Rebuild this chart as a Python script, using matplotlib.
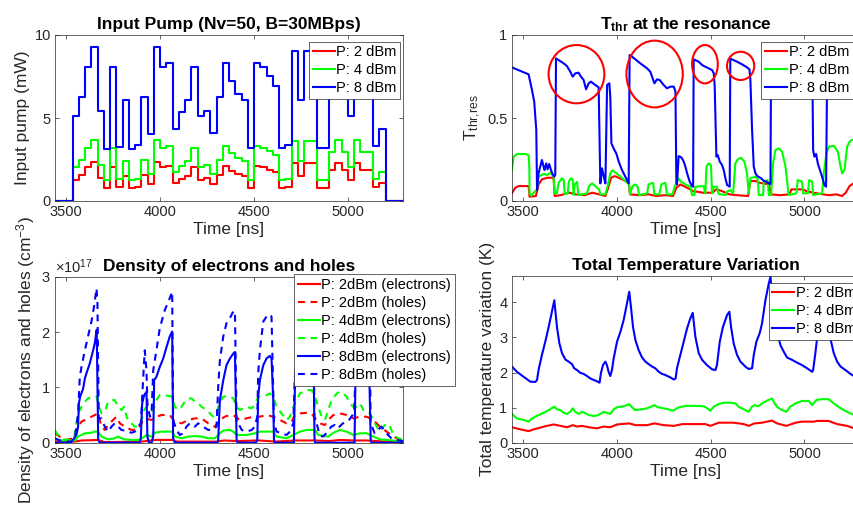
import numpy as np
import matplotlib
matplotlib.use('Agg')
import matplotlib.pyplot as plt
from matplotlib.patches import Ellipse
from matplotlib.ticker import ScalarFormatter, FuncFormatter

plt.rcParams['font.family'] = ['Liberation Sans', 'DejaVu Sans']
plt.rcParams['mathtext.fontset'] = 'custom'
plt.rcParams['mathtext.rm'] = 'Liberation Sans'
plt.rcParams['mathtext.it'] = 'Liberation Sans:italic'
plt.rcParams['mathtext.bf'] = 'Liberation Sans:bold'

# ---------------- data ----------------
time_range = (3440, 5293)
bit_start = 3533.3
bit_period = 33.333

# Panel 1: input pump levels per bit (mW)
pump_2dbm = [1.29, 1.58, 2.02, 2.32, 1.36, 0.79, 2.02, 0.82, 1.53, 0.79,
             0.85, 1.58, 1.01, 2.32, 2.02, 2.08, 1.09, 1.34, 1.53, 2.02,
             1.29, 1.36, 1.02, 1.58, 2.08, 1.82, 1.62, 1.53, 0.80, 2.08,
             2.02, 1.88, 1.73, 0.80, 0.85, 2.27, 1.53, 2.27, 2.27, 0.80,
             0.80, 1.86, 2.31, 1.86, 1.29, 2.31, 1.86, 1.86, 0.83, 1.08]
pump_4dbm = [2.04, 2.50, 3.20, 3.69, 2.16, 1.25, 3.20, 1.30, 2.42, 1.25,
             1.34, 2.50, 1.61, 3.69, 3.20, 3.30, 1.73, 2.13, 2.42, 3.20,
             2.04, 2.16, 1.62, 2.50, 3.30, 2.89, 2.57, 2.42, 1.26, 3.30,
             3.20, 2.99, 2.75, 1.26, 1.34, 3.60, 2.42, 3.60, 3.60, 1.26,
             1.26, 2.95, 3.66, 2.95, 2.04, 3.66, 2.95, 2.95, 1.32, 1.72]
pump_8dbm = [5.12, 6.29, 8.05, 9.26, 5.42, 3.13, 8.05, 3.27, 6.08, 3.13,
             3.37, 6.29, 4.04, 9.26, 8.05, 8.29, 4.34, 5.35, 6.08, 8.05,
             5.12, 5.42, 4.08, 6.29, 8.29, 7.25, 6.45, 6.08, 3.17, 8.29,
             8.05, 7.50, 6.90, 3.17, 3.37, 9.04, 6.08, 9.04, 9.04, 3.17,
             3.17, 7.40, 9.20, 7.40, 5.12, 9.20, 7.40, 7.40, 3.31, 4.32]

# Panel 2: T_thr at the resonance
tthr2_t = [3442, 3460, 3478, 3531, 3536, 3570, 3584, 3602, 3630, 3664, 3670, 3700, 3750, 3780,
           3830, 3870, 3906, 3940, 3955, 3970, 3990, 4030, 4064, 4071, 4120, 4170, 4210, 4260,
           4300, 4318, 4339, 4375, 4407, 4460, 4510, 4530, 4560, 4600, 4640, 4700, 4712, 4740,
           4760, 4810, 4822, 4870, 4920, 4930, 4990, 5010, 5046, 5100, 5130, 5170, 5200, 5220,
           5240, 5266, 5293]
tthr2_v = [0.046, 0.08, 0.09, 0.09, 0.026, 0.03, 0.10, 0.13, 0.14, 0.14, 0.03, 0.035, 0.05, 0.04,
           0.035, 0.05, 0.04, 0.03, 0.08, 0.14, 0.15, 0.13, 0.11, 0.04, 0.035, 0.04, 0.03, 0.035,
           0.03, 0.08, 0.10, 0.08, 0.06, 0.05, 0.05, 0.07, 0.06, 0.04, 0.035, 0.03, 0.12, 0.12,
           0.11, 0.10, 0.04, 0.035, 0.04, 0.07, 0.07, 0.06, 0.05, 0.04, 0.035, 0.04, 0.03, 0.05,
           0.09, 0.11, 0.12]
tthr4_t = [3442, 3451, 3469, 3513, 3531, 3535, 3536, 3544, 3575, 3584, 3611, 3629, 3647, 3664,
           3670, 3682, 3691, 3709, 3718, 3723, 3739, 3746, 3757, 3766, 3771, 3776, 3789, 3796,
           3842, 3853, 3869, 3886, 3906, 3913, 3940, 3952, 3966, 3977, 3998, 4020, 4046, 4066,
           4071, 4084, 4100, 4112, 4119, 4162, 4170, 4194, 4201, 4227, 4238, 4259, 4268, 4298,
           4309, 4318, 4327, 4339, 4366, 4392, 4401, 4414, 4419, 4463, 4472, 4478, 4490, 4502,
           4508, 4517, 4534, 4543, 4579, 4588, 4605, 4620, 4632, 4645, 4662, 4680, 4694, 4703,
           4712, 4739, 4751, 4757, 4780, 4783, 4804, 4810, 4822, 4833, 4845, 4863, 4881, 4899,
           4911, 4916, 4957, 4964, 4987, 4993, 5018, 5025, 5041, 5046, 5094, 5103, 5117, 5130,
           5156, 5178, 5192, 5201, 5213, 5227, 5241, 5254, 5293]
tthr4_v = [0.187, 0.267, 0.283, 0.283, 0.277, 0.20, 0.046, 0.032, 0.07, 0.147, 0.163, 0.157, 0.17, 0.147,
           0.046, 0.046, 0.11, 0.137, 0.127, 0.042, 0.046, 0.12, 0.137, 0.13, 0.036, 0.10, 0.115, 0.036,
           0.046, 0.09, 0.106, 0.09, 0.07, 0.04, 0.04, 0.09, 0.167, 0.185, 0.167, 0.147, 0.12, 0.10,
           0.04, 0.09, 0.10, 0.085, 0.036, 0.046, 0.10, 0.11, 0.04, 0.04, 0.10, 0.11, 0.04, 0.04,
           0.09, 0.10, 0.14, 0.12, 0.10, 0.086, 0.036, 0.036, 0.086, 0.09, 0.046, 0.207, 0.227, 0.217,
           0.046, 0.086, 0.086, 0.042, 0.036, 0.056, 0.066, 0.046, 0.227, 0.251, 0.261, 0.237, 0.167, 0.046,
           0.137, 0.147, 0.131, 0.036, 0.036, 0.116, 0.126, 0.036, 0.036, 0.227, 0.307, 0.317, 0.297, 0.207,
           0.086, 0.036, 0.046, 0.126, 0.116, 0.046, 0.046, 0.126, 0.116, 0.036, 0.046, 0.167, 0.29, 0.327,
           0.333, 0.297, 0.207, 0.167, 0.187, 0.327, 0.358, 0.368, 0.37]
tthr8_t = [3442, 3531, 3549, 3561, 3572, 3576, 3584, 3593, 3602, 3611, 3616, 3625, 3632, 3641,
           3650, 3661, 3668, 3673, 3677, 3691, 3718, 3735, 3753, 3766, 3780, 3797, 3810, 3824,
           3837, 3851, 3863, 3886, 3904, 3913, 3922, 3931, 3940, 3949, 3961, 3966, 3972, 3980,
           3988, 3998, 4011, 4028, 4046, 4064, 4069, 4082, 4126, 4162, 4179, 4201, 4215, 4229,
           4250, 4268, 4286, 4304, 4313, 4318, 4321, 4330, 4339, 4348, 4357, 4366, 4375, 4389,
           4401, 4407, 4410, 4419, 4437, 4455, 4472, 4490, 4508, 4517, 4522, 4531, 4538, 4549,
           4561, 4570, 4579, 4588, 4602, 4605, 4614, 4641, 4668, 4694, 4707, 4712, 4721, 4730,
           4739, 4748, 4769, 4783, 4797, 4810, 4819, 4822, 4900, 5000, 5042, 5046, 5053, 5062,
           5071, 5082, 5094, 5106, 5115, 5121, 5200, 5293]
tthr8_v = [0.805, 0.763, 0.669, 0.598, 0.428, 0.066, 0.167, 0.207, 0.247, 0.207, 0.187, 0.227, 0.191, 0.223,
           0.187, 0.157, 0.147, 0.157, 0.859, 0.849, 0.829, 0.813, 0.779, 0.749, 0.769, 0.773, 0.749, 0.729,
           0.673, 0.709, 0.719, 0.699, 0.685, 0.106, 0.197, 0.147, 0.106, 0.699, 0.709, 0.628, 0.347, 0.327,
           0.307, 0.287, 0.237, 0.187, 0.147, 0.106, 0.879, 0.869, 0.829, 0.799, 0.779, 0.709, 0.733, 0.729,
           0.699, 0.679, 0.689, 0.689, 0.659, 0.106, 0.10, 0.27, 0.267, 0.257, 0.237, 0.207, 0.167, 0.116,
           0.090, 0.086, 0.853, 0.849, 0.839, 0.819, 0.809, 0.799, 0.789, 0.769, 0.689, 0.267, 0.277, 0.237,
           0.217, 0.187, 0.137, 0.096, 0.086, 0.859, 0.853, 0.839, 0.823, 0.805, 0.793, 0.729, 0.428, 0.207,
           0.167, 0.151, 0.137, 0.122, 0.116, 0.106, 0.102, 0.85, 0.83, 0.80, 0.79, 0.307, 0.267, 0.283,
           0.227, 0.187, 0.147, 0.096, 0.086, 0.81, 0.80, 0.80]
# highlighted regions (centre t, centre value, width ns, height)
highlight_regions = [(3786, 0.764, 297, 0.351), (4202, 0.765, 300, 0.402),
                     (4470, 0.824, 137, 0.231), (4660, 0.814, 145, 0.170)]

# Panel 3: carrier densities (x 1e17 cm^-3)
e2_t = [3439, 3545, 3581, 3670, 3705, 3900, 3980, 4064, 4090, 4300, 4340, 4410, 4530, 4610,
        4720, 4830, 4900, 4960, 5030, 5100, 5200, 5293]
e2_v = [0.02, 0.02, 0.04, 0.05, 0.01, 0.02, 0.05, 0.05, 0.02, 0.02, 0.04, 0.03, 0.04, 0.02,
        0.04, 0.04, 0.03, 0.05, 0.04, 0.04, 0.02, 0.01]
h2_t = [3439, 3492, 3545, 3563, 3581, 3616, 3652, 3670, 3687, 3705, 3723, 3749, 3767, 3785,
        3812, 3847, 3883, 3900, 3918, 3954, 3980, 4007, 4051, 4078, 4114, 4149, 4185, 4220,
        4256, 4291, 4318, 4344, 4371, 4389, 4424, 4460, 4495, 4531, 4566, 4602, 4638, 4673,
        4700, 4717, 4744, 4780, 4806, 4824, 4851, 4877, 4895, 4922, 4957, 4993, 5028, 5064,
        5099, 5135, 5170, 5206, 5242, 5277, 5293]
h2_v = [0.17, 0.05, 0.08, 0.29, 0.38, 0.44, 0.50, 0.53, 0.29, 0.23, 0.32, 0.41, 0.47, 0.35,
        0.29, 0.23, 0.24, 0.35, 0.44, 0.41, 0.47, 0.50, 0.50, 0.38, 0.35, 0.41, 0.44, 0.44,
        0.35, 0.29, 0.41, 0.47, 0.50, 0.50, 0.41, 0.44, 0.47, 0.47, 0.50, 0.47, 0.41, 0.35,
        0.38, 0.50, 0.53, 0.54, 0.53, 0.44, 0.35, 0.32, 0.41, 0.50, 0.53, 0.50, 0.44, 0.47,
        0.47, 0.41, 0.29, 0.20, 0.11, 0.05, 0.04]
e4_t = [3439, 3474, 3545, 3563, 3581, 3599, 3634, 3652, 3670, 3687, 3723, 3758, 3776, 3794,
        3812, 3847, 3883, 3904, 3927, 3954, 3971, 4007, 4064, 4078, 4114, 4149, 4185, 4220,
        4256, 4291, 4318, 4336, 4371, 4389, 4407, 4460, 4504, 4531, 4602, 4620, 4673, 4709,
        4744, 4780, 4824, 4842, 4895, 4922, 4957, 4993, 5028, 5064, 5099, 5135, 5170, 5206, 5293]
e4_v = [0.08, 0.04, 0.04, 0.11, 0.14, 0.17, 0.18, 0.20, 0.20, 0.11, 0.06, 0.08, 0.11, 0.08,
        0.06, 0.05, 0.05, 0.08, 0.14, 0.11, 0.18, 0.20, 0.20, 0.11, 0.08, 0.11, 0.12, 0.11,
        0.08, 0.08, 0.17, 0.22, 0.23, 0.20, 0.14, 0.14, 0.17, 0.20, 0.20, 0.11, 0.08, 0.14,
        0.20, 0.23, 0.23, 0.14, 0.11, 0.18, 0.23, 0.20, 0.14, 0.17, 0.17, 0.11, 0.06, 0.05, 0.02]
h4_t = [3439, 3456, 3492, 3528, 3545, 3554, 3563, 3581, 3599, 3616, 3643, 3661, 3673, 3687,
        3705, 3723, 3741, 3758, 3776, 3794, 3808, 3821, 3829, 3847, 3865, 3883, 3897, 3915,
        3927, 3945, 3963, 3980, 3998, 4025, 4051, 4064, 4078, 4096, 4114, 4131, 4149, 4167,
        4185, 4202, 4220, 4247, 4265, 4282, 4300, 4318, 4336, 4353, 4371, 4389, 4407, 4424,
        4460, 4487, 4504, 4522, 4549, 4584, 4602, 4620, 4646, 4673, 4691, 4709, 4744, 4780,
        4806, 4824, 4842, 4860, 4877, 4895, 4913, 4940, 4957, 4975, 4993, 5011, 5028, 5046,
        5064, 5082, 5099, 5117, 5135, 5153, 5170, 5188, 5206, 5224, 5242, 5268, 5293]
h4_v = [0.23, 0.14, 0.05, 0.05, 0.14, 0.35, 0.53, 0.65, 0.74, 0.80, 0.84, 0.84, 0.65, 0.53,
        0.56, 0.74, 0.77, 0.77, 0.65, 0.59, 0.65, 0.47, 0.41, 0.35, 0.29, 0.29, 0.35, 0.59,
        0.65, 0.56, 0.59, 0.77, 0.86, 0.86, 0.84, 0.83, 0.65, 0.59, 0.65, 0.74, 0.80, 0.80,
        0.74, 0.71, 0.65, 0.59, 0.53, 0.47, 0.53, 0.74, 0.83, 0.84, 0.84, 0.80, 0.65, 0.59,
        0.65, 0.62, 0.68, 0.83, 0.83, 0.89, 0.83, 0.65, 0.53, 0.41, 0.47, 0.65, 0.89, 0.95,
        0.95, 0.83, 0.65, 0.47, 0.41, 0.59, 0.77, 0.89, 0.92, 0.89, 0.83, 0.71, 0.65, 0.65,
        0.71, 0.59, 0.59, 0.53, 0.41, 0.29, 0.20, 0.29, 0.35, 0.29, 0.14, 0.08, 0.05]
e8_t = [3439, 3519, 3528, 3542, 3554, 3563, 3567, 3574, 3590, 3599, 3607, 3625, 3643, 3652,
        3662, 3670, 3678, 3892, 3897, 3904, 3915, 3927, 3932, 3940, 3954, 3963, 3968, 3980,
        3998, 4016, 4034, 4051, 4064, 4069, 4078, 4305, 4309, 4318, 4336, 4353, 4371, 4389,
        4398, 4407, 4412, 4510, 4517, 4522, 4531, 4549, 4566, 4584, 4593, 4602, 4606, 4611,
        4712, 4719, 4760, 4815, 4822, 4826, 5035, 5040, 5110, 5121, 5125, 5293]
e8_v = [0.0, 0.0, 0.02, 0.08, 0.14, 0.29, 0.71, 0.83, 0.98, 1.16, 1.25, 1.43, 1.67, 1.80,
        2.04, 0.05, 0.0, 0.0, 0.08, 0.71, 0.86, 0.92, 0.11, 0.0, 0.0, 0.11, 1.13, 1.19,
        1.37, 1.52, 1.73, 1.92, 2.01, 0.08, 0.0, 0.0, 0.05, 0.77, 1.13, 1.40, 1.52, 1.61,
        1.64, 0.05, 0.0, 0.0, 0.05, 0.83, 1.13, 1.40, 1.52, 1.57, 1.52, 0.77, 0.05, 0.0,
        0.0, 1.30, 1.60, 1.90, 0.05, 0.0, 0.0, 1.20, 1.80, 0.05, 0.0, 0.0]
h8_t = [3439, 3456, 3492, 3528, 3545, 3554, 3563, 3572, 3581, 3599, 3616, 3634, 3648, 3661,
        3666, 3673, 3687, 3705, 3723, 3741, 3758, 3776, 3794, 3812, 3829, 3847, 3865, 3883,
        3897, 3909, 3918, 3927, 3932, 3945, 3954, 3963, 3980, 3998, 4025, 4051, 4064, 4069,
        4087, 4105, 4122, 4140, 4158, 4185, 4202, 4229, 4256, 4282, 4300, 4309, 4318, 4336,
        4353, 4371, 4389, 4398, 4407, 4416, 4434, 4460, 4487, 4504, 4517, 4522, 4531, 4549,
        4566, 4584, 4593, 4606, 4620, 4646, 4673, 4691, 4709, 4717, 4760, 4815, 4822, 4831,
        4849, 4867, 4884, 4911, 4929, 4946, 4973, 5000, 5018, 5032, 5040, 5115, 5121, 5128,
        5142, 5160, 5177, 5195, 5213, 5231, 5248, 5275, 5293]
h8_v = [0.08, 0.05, 0.02, 0.02, 0.08, 0.29, 0.53, 1.19, 1.37, 1.67, 1.92, 2.19, 2.46, 2.79,
        2.52, 0.44, 0.44, 0.29, 0.20, 0.29, 0.35, 0.29, 0.23, 0.22, 0.20, 0.18, 0.20, 0.29,
        0.35, 1.13, 1.67, 1.31, 0.71, 0.47, 0.50, 1.31, 1.67, 2.07, 2.40, 2.61, 2.73, 0.41,
        0.23, 0.14, 0.17, 0.29, 0.35, 0.29, 0.35, 0.29, 0.23, 0.24, 0.29, 1.01, 1.49, 1.92,
        2.16, 2.25, 2.37, 2.38, 0.35, 0.35, 0.23, 0.20, 0.23, 0.29, 0.47, 1.25, 1.67, 2.19,
        2.28, 2.32, 2.28, 0.35, 0.20, 0.17, 0.14, 0.20, 0.35, 1.20, 2.00, 2.30, 0.40, 0.38,
        0.14, 0.11, 0.17, 0.29, 0.32, 0.26, 0.35, 0.38, 0.47, 0.53, 1.20, 2.00, 0.35, 0.29,
        0.17, 0.23, 0.29, 0.23, 0.14, 0.08, 0.05, 0.04, 0.03]

# Panel 4: total temperature variation (K)
temp2_t = [3442, 3487, 3531, 3558, 3593, 3629, 3664, 3700, 3735, 3766, 3789, 3815, 3851, 3895,
           3931, 3966, 4002, 4067, 4100, 4162, 4201, 4250, 4304, 4350, 4410, 4472, 4499, 4543,
           4623, 4677, 4703, 4733, 4774, 4827, 4854, 4904, 4952, 4987, 5050, 5067, 5129, 5174,
           5227, 5263, 5293]
temp2_v = [0.44, 0.38, 0.33, 0.38, 0.43, 0.48, 0.52, 0.48, 0.44, 0.50, 0.46, 0.48, 0.44, 0.41,
           0.46, 0.44, 0.52, 0.55, 0.50, 0.50, 0.55, 0.50, 0.48, 0.53, 0.53, 0.53, 0.48, 0.57,
           0.57, 0.53, 0.48, 0.55, 0.57, 0.63, 0.55, 0.48, 0.57, 0.60, 0.60, 0.62, 0.62, 0.53,
           0.48, 0.41, 0.38]
temp4_t = [3442, 3469, 3504, 3531, 3549, 3576, 3611, 3638, 3668, 3682, 3700, 3718, 3735, 3753,
           3766, 3780, 3797, 3815, 3833, 3851, 3877, 3899, 3913, 3931, 3948, 3966, 3984, 4002,
           4028, 4055, 4067, 4081, 4100, 4135, 4162, 4183, 4201, 4219, 4250, 4277, 4295, 4313,
           4330, 4350, 4375, 4410, 4455, 4472, 4499, 4517, 4543, 4570, 4605, 4632, 4650, 4677,
           4703, 4721, 4733, 4756, 4774, 4801, 4827, 4840, 4854, 4881, 4904, 4925, 4952, 4987,
           5023, 5041, 5064, 5094, 5129, 5156, 5192, 5227, 5263, 5293]
temp4_v = [0.82, 0.69, 0.65, 0.60, 0.69, 0.77, 0.85, 0.93, 1.03, 0.95, 0.93, 0.85, 0.82, 0.88,
           0.98, 0.88, 0.82, 0.88, 0.84, 0.79, 0.76, 0.78, 0.82, 0.88, 0.85, 0.82, 0.95, 1.01,
           1.03, 1.07, 1.10, 1.01, 0.93, 0.95, 0.98, 1.03, 1.07, 1.01, 0.98, 0.95, 0.91, 0.95,
           1.01, 1.03, 1.05, 1.05, 1.04, 1.02, 0.91, 1.03, 1.10, 1.14, 1.14, 1.12, 1.02, 0.95,
           0.88, 1.03, 1.07, 1.04, 1.12, 1.20, 1.26, 1.13, 1.02, 0.93, 0.88, 1.03, 1.12, 1.19,
           1.19, 1.07, 1.22, 1.24, 1.24, 1.12, 0.98, 0.88, 0.79, 0.74]
temp8_t = [3442, 3469, 3504, 3540, 3567, 3576, 3584, 3602, 3620, 3638, 3655, 3668, 3675, 3682,
           3695, 3709, 3727, 3744, 3762, 3774, 3789, 3806, 3824, 3842, 3860, 3877, 3899, 3909,
           3916, 3927, 3940, 3948, 3957, 3966, 3975, 3984, 4002, 4020, 4037, 4055, 4067, 4076,
           4087, 4100, 4117, 4135, 4153, 4170, 4188, 4206, 4224, 4242, 4259, 4286, 4304, 4314,
           4321, 4339, 4350, 4375, 4392, 4405, 4419, 4437, 4455, 4481, 4508, 4526, 4534, 4549,
           4566, 4588, 4600, 4609, 4623, 4641, 4659, 4685, 4703, 4721, 4730, 4744, 4762, 4774,
           4792, 4810, 4819, 4832, 4848, 4863, 4872, 4890, 4907, 4934, 4961, 4987, 5014, 5041,
           5046, 5058, 5067, 5090, 5118, 5128, 5138, 5156, 5174, 5192, 5218, 5245, 5263, 5293]
temp8_v = [2.17, 2.02, 1.88, 1.74, 1.73, 1.79, 2.07, 2.50, 2.88, 3.30, 3.73, 4.06, 3.68, 3.30,
           2.83, 2.55, 2.37, 2.31, 2.24, 2.12, 2.07, 1.99, 1.96, 1.90, 1.83, 1.79, 1.74, 1.71,
           1.98, 2.21, 2.31, 2.21, 2.02, 1.90, 2.07, 2.40, 2.88, 3.16, 3.49, 3.97, 4.30, 3.87,
           3.30, 2.92, 2.64, 2.43, 2.31, 2.24, 2.17, 2.12, 2.02, 1.96, 1.93, 1.86, 1.80, 1.83,
           2.12, 2.50, 2.73, 3.26, 3.54, 3.70, 3.02, 2.55, 2.36, 2.21, 2.09, 2.07, 2.21, 2.88,
           3.30, 3.64, 3.73, 3.30, 2.83, 2.50, 2.31, 2.17, 2.10, 2.12, 2.50, 2.88, 3.13, 3.40,
           4.06, 4.54, 4.73, 3.90, 3.30, 2.97, 2.78, 2.59, 2.43, 2.36, 2.28, 2.21, 2.12, 2.02,
           2.07, 2.55, 2.97, 3.40, 3.90, 3.50, 2.97, 2.55, 2.31, 2.17, 2.07, 1.96, 1.90, 1.82]

power_labels = ['P: 2 dBm', 'P: 4 dBm', 'P: 8 dBm']
density_labels = ['P: 2dBm (electrons)', 'P: 2dBm (holes)', 'P: 4dBm (electrons)',
                  'P: 4dBm (holes)', 'P: 8dBm (electrons)', 'P: 8dBm (holes)']
COLORS = ['#ff0000', '#00ff00', '#0000ff']

# ---------------- figure ----------------
W, H = 854, 507
fig = plt.figure(figsize=(W / 100, H / 100), dpi=100)
TXT = '#262626'
LW = 1.5


def px_axes(left, top, right, bottom):
    return fig.add_axes([left / W, 1 - bottom / H, (right - left) / W, (bottom - top) / H])


def style(ax):
    for s in ax.spines.values():
        s.set_color(TXT)
        s.set_linewidth(0.5)
    ax.tick_params(direction='in', length=3, width=0.5, colors=TXT, labelsize=10.5,
                   top=True, right=True, pad=3)
    ax.set_xlim(*time_range)
    ax.set_xticks([3500, 4000, 4500, 5000])
    ax.set_xlabel('Time [ns]', fontsize=12.5, color=TXT, labelpad=2)


def legend(ax, x, y):
    leg = ax.legend(loc='upper left', bbox_to_anchor=(x, y), borderaxespad=0, fontsize=10.5,
                    handlelength=1.5, handletextpad=0.12, borderpad=0.25, labelspacing=0.28,
                    fancybox=False, framealpha=1, edgecolor=TXT)
    leg.get_frame().set_linewidth(0.5)
    return leg


gfmt = FuncFormatter(lambda v, p: '%g' % v)

# Panel 1
ax1 = px_axes(55, 35, 403, 201)
style(ax1)
edges = bit_start + bit_period * np.arange(len(pump_8dbm) + 1)
xs = np.r_[time_range[0], edges, time_range[1]]
for vals, col, lab in zip([pump_2dbm, pump_4dbm, pump_8dbm], COLORS, power_labels):
    ys = np.r_[0, vals, 0, 0]
    ax1.step(xs, ys, where='post', color=col, lw=LW, label=lab)
ax1.set_ylim(0, 10)
ax1.set_yticks([0, 5, 10])
ax1.set_ylabel('Input pump (mW)', fontsize=12.5, color=TXT, labelpad=3)
ax1.set_title('Input Pump (Nv=50, B=30MBps)', fontsize=12.5, fontweight='bold', pad=4)
legend(ax1, 0.730, 0.96)

# Panel 2
ax2 = px_axes(511.5, 35, 859.5, 201)
style(ax2)
for (t, v), col, lab in zip([(tthr2_t, tthr2_v), (tthr4_t, tthr4_v), (tthr8_t, tthr8_v)],
                            COLORS, power_labels):
    ax2.plot(t, v, color=col, lw=LW, label=lab)
for (tc, vc, w, h) in highlight_regions:
    ax2.add_patch(Ellipse((tc, vc), w, h, fill=False, edgecolor='#ff0000', lw=LW, zorder=5))
ax2.set_ylim(0, 1)
ax2.set_yticks([0, 0.5, 1])
ax2.yaxis.set_major_formatter(gfmt)
ax2.set_ylabel(r'T$_{\mathrm{thr{,}res}}$', fontsize=12.5, color=TXT, labelpad=3)
ax2.set_title(r'$\mathbf{T_{thr}}$ at the resonance', fontsize=12.5, fontweight='bold', pad=4)
legend(ax2, 0.718, 0.96)

# Panel 3
ax3 = px_axes(55, 276.7, 403, 442.7)
style(ax3)
series3 = [(e2_t, e2_v, COLORS[0], '-'), (h2_t, h2_v, COLORS[0], '--'),
           (e4_t, e4_v, COLORS[1], '-'), (h4_t, h4_v, COLORS[1], '--'),
           (e8_t, e8_v, COLORS[2], '-'), (h8_t, h8_v, COLORS[2], '--')]
for (t, v, col, ls), lab in zip(series3, density_labels):
    kw = dict(color=col, lw=LW, label=lab)
    if ls == '--':
        kw['linestyle'] = (0, (3.3, 2.7))
    ax3.plot(t, np.array(v) * 1e17, **kw)
ax3.set_ylim(0, 3e17)
ax3.set_yticks([0, 1e17, 2e17, 3e17])
sf = ScalarFormatter(useMathText=True)
sf.set_powerlimits((0, 0))
ax3.yaxis.set_major_formatter(sf)
ax3.yaxis.get_offset_text().set_fontsize(10.5)
ax3.yaxis.get_offset_text().set_color(TXT)
ax3.set_ylabel(r'Density of electrons and holes (cm$^{-3}$)', fontsize=12.5, color=TXT, labelpad=3)
ax3.set_title('Density of electrons and holes', fontsize=12.5, fontweight='bold', pad=4)
legend(ax3, 0.687, 1.016)

# Panel 4
ax4 = px_axes(511.5, 276, 859.5, 442.7)
style(ax4)
for (t, v), col, lab in zip([(temp2_t, temp2_v), (temp4_t, temp4_v), (temp8_t, temp8_v)],
                            COLORS, power_labels):
    ax4.plot(t, v, color=col, lw=LW, label=lab)
ax4.set_ylim(0, 4.75)
ax4.set_yticks([0, 1, 2, 3, 4])
ax4.set_ylabel('Total temperature variation (K)', fontsize=12.5, color=TXT, labelpad=3)
ax4.set_title('Total Temperature Variation', fontsize=12.5, fontweight='bold', pad=4)
legend(ax4, 0.739, 0.96)

fig.savefig('out.png', dpi=100)
